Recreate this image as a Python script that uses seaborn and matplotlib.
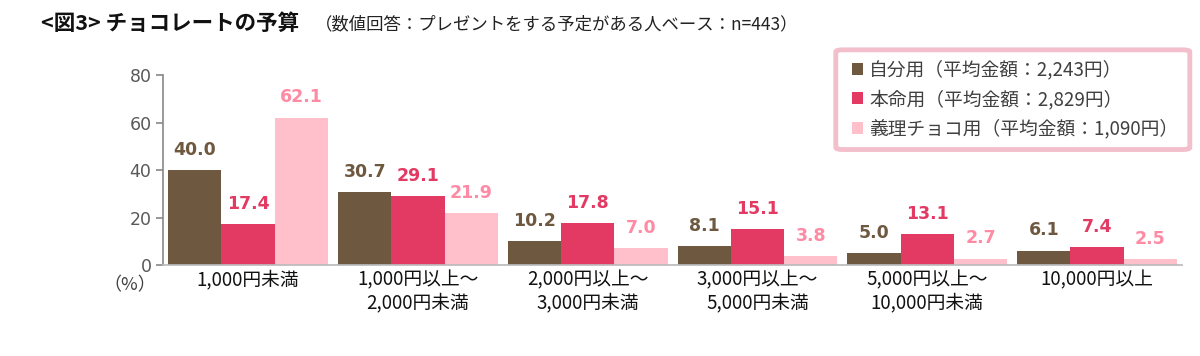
import matplotlib
matplotlib.use("Agg")
import matplotlib.pyplot as plt
import seaborn as sns
import pandas as pd
from matplotlib.patches import FancyBboxPatch, Patch

sns.set_theme(style="white")
plt.rcParams['font.family'] = ['Noto Sans CJK JP', 'DejaVu Sans']

categories = ["1,000円未満", "1,000円以上～\n2,000円未満", "2,000円以上～\n3,000円未満",
              "3,000円以上～\n5,000円未満", "5,000円以上～\n10,000円未満", "10,000円以上"]
series = ["自分用（平均金額：2,243円）", "本命用（平均金額：2,829円）", "義理チョコ用（平均金額：1,090円）"]
jibun = [40.0, 30.7, 10.2, 8.1, 5.0, 6.1]
honmei = [17.4, 29.1, 17.8, 15.1, 13.1, 7.4]
giri = [62.1, 21.9, 7.0, 3.8, 2.7, 2.5]
yticks = [0, 20, 40, 60, 80]

bar_colors = ["#6e5940", "#e23a62", "#ffc0cc"]
label_colors = ["#6e5940", "#e23a62", "#ff8aa3"]

rows = []
for s, vals in zip(series, [jibun, honmei, giri]):
    for c, v in zip(categories, vals):
        rows.append({"cat": c, "series": s, "val": v})
df = pd.DataFrame(rows)

fig = plt.figure(figsize=(12, 3.56), dpi=100)
ax = fig.add_axes([0.136, 0.2556, 0.849, 0.5337])
sns.barplot(data=df, x="cat", y="val", hue="series", palette=bar_colors,
            width=0.94, gap=0, ax=ax, legend=False, saturation=1, linewidth=0)

for i, cont in enumerate(ax.containers):
    txts = ax.bar_label(cont, fmt="%.1f", padding=8, color=label_colors[i],
                        fontsize=12.5, fontweight="bold")
    for t in txts:
        t.set_fontfamily("DejaVu Sans")

ax.set_ylim(0, 80)
ax.set_yticks(yticks)
ax.set_xlim(-0.5, len(categories) - 0.5)
ax.set_xlabel("")
ax.set_ylabel("")
for sp in ["top", "right"]:
    ax.spines[sp].set_visible(False)
ax.spines["left"].set_color("#888888")
ax.spines["bottom"].set_color("#bbbbbb")
ax.spines["left"].set_linewidth(1.2)
ax.tick_params(axis="y", colors="#888888", labelcolor="#595959", labelsize=12.5,
               length=5, width=1.2, direction="out", left=True)
for t in ax.get_yticklabels():
    t.set_fontfamily("DejaVu Sans")
ax.tick_params(axis="x", length=0, labelsize=13.5, labelcolor="#111111", pad=3)
for t in ax.get_xticklabels():
    t.set_linespacing(1.15)

fig.text(0.086, 0.185, "（%）", fontsize=13, color="#404040")

fig.text(0.034, 0.935, "<図3> チョコレートの予算", fontsize=15.5, fontweight="bold",
         color="#111111", va="center")
fig.text(0.262, 0.933, "（数値回答：プレゼントをする予定がある人ベース：n=443）",
         fontsize=12.5, color="#222222", va="center")

# legend box
box = FancyBboxPatch((0.6965, 0.58), 0.295, 0.28, boxstyle="round,pad=0,rounding_size=0.006",
                     transform=fig.transFigure, facecolor="white", edgecolor="#f3bfcc",
                     linewidth=3.5, zorder=5)
fig.patches.append(box)
handles = [Patch(facecolor=c, edgecolor="none") for c in bar_colors]
leg = fig.legend(handles, series, loc="upper left", bbox_to_anchor=(0.696, 0.88),
                 frameon=False, fontsize=13.5, handlelength=0.6, handleheight=0.6,
                 handletextpad=0.3, labelspacing=0.45, labelcolor="#404040")
leg.set_zorder(6)

fig.savefig("out.png", dpi=100)
